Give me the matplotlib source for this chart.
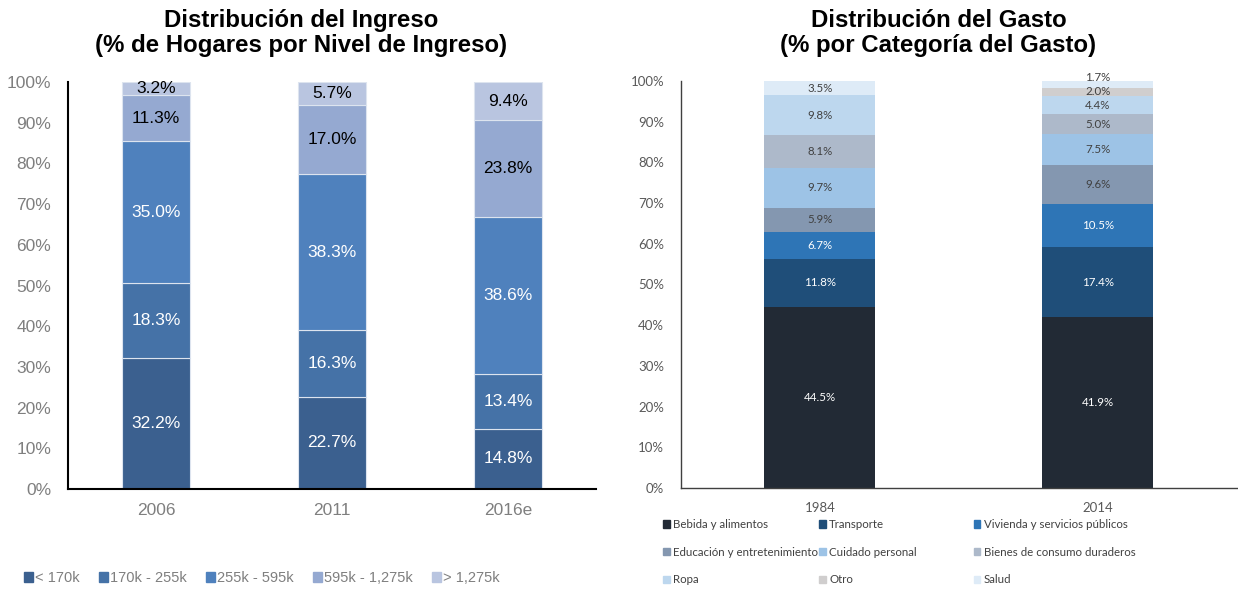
import numpy as np
import matplotlib.pyplot as plt
from matplotlib.patches import Patch

# Left panel: income distribution
years_inc = ['2006', '2011', '2016e']
inc_groups = ['< 170k', '170k - 255k', '255k - 595k', '595k - 1,275k', '> 1,275k']
inc_values = [
    [32.2, 22.7, 14.8],
    [18.3, 16.3, 13.4],
    [35.0, 38.3, 38.6],
    [11.3, 17.0, 23.8],
    [3.2, 5.7, 9.4],
]
inc_colors = ['#3B608F', '#4572A7', '#4F81BD', '#95A9D1', '#B9C5E0']
inc_txt = ['white', 'white', 'white', 'black', 'black']

# Right panel: expenditure distribution
years_exp = ['1984', '2014']
exp_groups = ['Bebida y alimentos', 'Transporte', 'Vivienda y servicios públicos',
              'Educación y entretenimiento', 'Cuidado personal', 'Bienes de consumo duraderos',
              'Ropa', 'Otro', 'Salud']
exp_values = [
    [44.5, 41.9],
    [11.8, 17.4],
    [6.7, 10.5],
    [5.9, 9.6],
    [9.7, 7.5],
    [8.1, 5.0],
    [9.8, 4.4],
    [0.0, 2.0],
    [3.5, 1.7],
]
exp_colors = ['#222A35', '#1F4E79', '#2E75B6', '#8497B0', '#9DC3E6',
              '#ADB9CA', '#BDD7EE', '#D0CECE', '#DEEBF7']
exp_txt = ['white', 'white', 'white'] + ['#404040'] * 6

fig = plt.figure(figsize=(12.38, 5.9), dpi=100)
gray = '#7F7F7F'

# ---- left chart
ax1 = fig.add_axes([0.0549, 0.1712, 0.4265, 0.6898])
x1 = np.arange(len(years_inc))
bottom = np.zeros(len(years_inc))
for vals, col, tc in zip(inc_values, inc_colors, inc_txt):
    vals = np.array(vals)
    ax1.bar(x1, vals, 0.39, bottom=bottom, color=col, edgecolor='#DDE4EF', linewidth=0.8)
    for xi, b, v in zip(x1, bottom, vals):
        ax1.text(xi, b + v / 2, f'{v:.1f}%', ha='center', va='center', color=tc,
                 fontsize=12.5, family='Liberation Sans')
    bottom += vals
ax1.set_xlim(-0.5, 2.5)
ax1.set_ylim(0, 100)
ax1.set_yticks(np.arange(0, 101, 10))
ax1.set_yticklabels([f'{t}%' for t in range(0, 101, 10)])
ax1.set_xticks(x1)
ax1.set_xticklabels(years_inc)
for s in ['top', 'right']:
    ax1.spines[s].set_visible(False)
for s in ['left', 'bottom']:
    ax1.spines[s].set_linewidth(1.5)
    ax1.spines[s].set_color('black')
ax1.tick_params(length=0, labelsize=12.5, labelcolor=gray, pad=12)
ax1.tick_params(axis='x', pad=10)
for lab in ax1.get_xticklabels() + ax1.get_yticklabels():
    lab.set_family('Liberation Sans')
fig.text(0.243, 0.944, 'Distribución del Ingreso\n(% de Hogares por Nivel de Ingreso)',
         ha='center', va='center', fontsize=17.3, fontweight='bold',
         family='Liberation Sans', linespacing=1.12)
handles1 = [Patch(color=c, label=l) for c, l in zip(inc_colors, inc_groups)]
leg1 = fig.legend(handles=handles1, loc='center left', bbox_to_anchor=(0.009, 0.02),
                  ncol=5, frameon=False, handlelength=0.6, handleheight=0.6,
                  handletextpad=0.15, columnspacing=1.33,
                  prop={'family': 'Liberation Sans', 'size': 10.5})
for t in leg1.get_texts():
    t.set_color(gray)

# ---- right chart
ax2 = fig.add_axes([0.550, 0.1729, 0.449, 0.6898])
x2 = np.arange(len(years_exp))
bottom = np.zeros(len(years_exp))
for i, (vals, col, tc) in enumerate(zip(exp_values, exp_colors, exp_txt)):
    vals = np.array(vals)
    ax2.bar(x2, vals, 0.4, bottom=bottom, color=col, linewidth=0)
    for xi, b, v in zip(x2, bottom, vals):
        if v == 0:
            continue
        y = b + v / 2
        if v < 1.8 and i == len(exp_values) - 1:
            y += 1.8
        ax2.text(xi, y, f'{v:.1f}%', ha='center', va='center', color=tc,
                 fontsize=8.3, family='Lato')
    bottom += vals
ax2.set_xlim(-0.5, 1.5)
ax2.set_ylim(0, 100)
ax2.set_yticks(np.arange(0, 101, 10))
ax2.set_yticklabels([f'{t}%' for t in range(0, 101, 10)])
ax2.set_xticks(x2)
ax2.set_xticklabels(years_exp)
for s in ['top', 'right']:
    ax2.spines[s].set_visible(False)
for s in ['left', 'bottom']:
    ax2.spines[s].set_linewidth(1.0)
    ax2.spines[s].set_color('#404040')
ax2.tick_params(length=0, labelsize=9.5, labelcolor='#595959', pad=12)
ax2.tick_params(axis='x', pad=10)
for lab in ax2.get_xticklabels() + ax2.get_yticklabels():
    lab.set_family('Lato')
fig.text(0.758, 0.944, 'Distribución del Gasto\n(% por Categoría del Gasto)',
         ha='center', va='center', fontsize=17.3, fontweight='bold',
         family='Liberation Sans', linespacing=1.12)

# three legend columns placed like the source
col_x = [0.527, 0.653, 0.778]
for k in range(3):
    idx = [k, k + 3, k + 6]
    hs = [Patch(color=exp_colors[j], label=exp_groups[j]) for j in idx]
    lg = fig.legend(handles=hs, loc='upper left', bbox_to_anchor=(col_x[k], 0.138),
                    ncol=1, frameon=False, handlelength=0.6, handleheight=0.6,
                    handletextpad=0.3, labelspacing=1.45,
                    prop={'family': 'Lato', 'size': 8.3})
    for t in lg.get_texts():
        t.set_color('#404040')

fig.savefig('out.png', dpi=100)
